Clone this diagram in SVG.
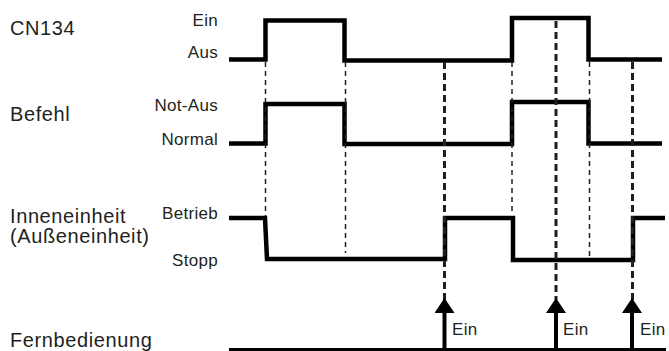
<svg xmlns="http://www.w3.org/2000/svg" width="669" height="351" viewBox="0 0 669 351">
<defs>
<style>
.name{font-family:"Liberation Sans",Arial,sans-serif;font-size:20px;letter-spacing:0.6px;fill:#231f20}
.state{font-family:"Liberation Sans",Arial,sans-serif;font-size:17px;letter-spacing:0.3px;fill:#231f20;text-anchor:end}
.ein{font-family:"Liberation Sans",Arial,sans-serif;font-size:17px;letter-spacing:0.3px;fill:#231f20}
.sig{fill:none;stroke:#000;stroke-width:4.5;stroke-linejoin:miter;stroke-linecap:butt}
.thin{fill:none;stroke:#231f20;stroke-width:1.5;stroke-dasharray:5 4}
.thick{fill:none;stroke:#231f20;stroke-width:3;stroke-dasharray:7 4}
.shaft{fill:none;stroke:#000;stroke-width:4}
</style>
<marker id="ah" viewBox="0 0 15 20" refX="0" refY="10" markerWidth="15" markerHeight="20" markerUnits="userSpaceOnUse" orient="auto">
<path d="M0,0 L15,10 L0,20 Z" fill="#000"/>
</marker>
</defs>
<g id="cn134">
<text class="name" x="10" y="35">CN134</text>
<text class="state" x="218" y="26">Ein</text>
<text class="state" x="218" y="58">Aus</text>
<path class="sig" d="M229,59.5 H265.5 V20.5 H344.5 V60.5 H512 V18 H588.5 V59.5 H662"/>
</g>
<g id="befehl">
<text class="name" x="10" y="121">Befehl</text>
<text class="state" x="218" y="111">Not-Aus</text>
<text class="state" x="218" y="145">Normal</text>
<path class="sig" d="M229,143.5 H265.5 V104 H344.5 V144 H512 V102 H588.5 V143.5 H662"/>
</g>
<g id="inneneinheit">
<text class="name" x="10" y="223">Inneneinheit</text>
<text class="name" x="10" y="243">(Außeneinheit)</text>
<text class="state" x="218" y="219">Betrieb</text>
<text class="state" x="218" y="266">Stopp</text>
<path class="sig" d="M229,218 H265 L267,259 H445 V218 H513 V260 H633 V218 H665"/>
</g>
<g id="fernbedienung">
<text class="name" x="10" y="347">Fernbedienung</text>
<path fill="none" stroke="#000" stroke-width="3" d="M229,349.5 H666"/>
<text class="ein" x="452" y="335">Ein</text>
<text class="ein" x="563" y="335">Ein</text>
<text class="ein" x="640" y="335">Ein</text>
</g>
<g id="connectors">
<path class="thin" d="M265.5,62 V216"/>
<path class="thin" d="M345.5,62 V253"/>
<path class="thin" d="M512,62 V214"/>
<path class="thin" d="M589.5,62 V257"/>
<path class="thick" d="M444.5,62 V300"/>
<path class="thick" d="M556,21 V300"/>
<path class="thick" d="M632.5,62 V300"/>
<path class="shaft" d="M444.5,348 V313" marker-end="url(#ah)"/>
<path class="shaft" d="M556,348 V313" marker-end="url(#ah)"/>
<path class="shaft" d="M632,348 V313" marker-end="url(#ah)"/>
</g>
</svg>
